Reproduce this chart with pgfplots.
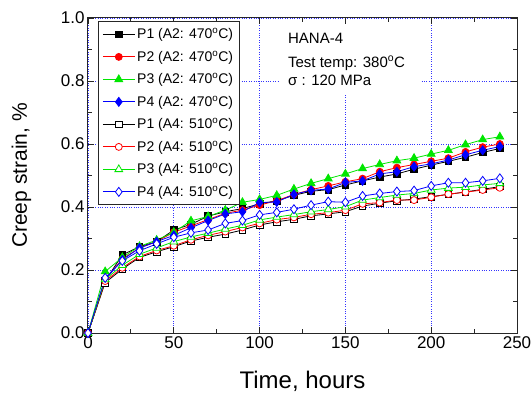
\documentclass[border=0pt]{standalone}
\usepackage{pgfplots}
\pgfplotsset{compat=1.18}
\usepackage{fontspec}
\setmainfont{Liberation Sans}
\definecolor{cgreen}{RGB}{0,230,0}
\definecolor{cred}{RGB}{255,0,0}
\definecolor{cblue}{RGB}{0,0,255}
\begin{document}
\begin{tikzpicture}
\useasboundingbox (-88pt,-61pt) rectangle (444pt,333pt);
\begin{axis}[
  at={(0pt,0pt)}, anchor=south west,
  scale only axis, width=429pt, height=315pt,
  xmin=0, xmax=250, ymin=0, ymax=1,
  xtick={0,50,...,250}, ytick={0,0.2,0.4,0.6,0.8,1.0},
  minor x tick num=1, minor y tick num=1,
  tick align=inside,
  major tick length=6pt, minor tick length=4pt,
  axis line style={line width=1pt, black!85},
  every tick/.style={black!85, line width=0.8pt},
  grid=major,
  major grid style={cblue!80, dotted, line width=0.9pt},
  yticklabel style={/pgf/number format/.cd, fixed, fixed zerofill, precision=1},
  /pgf/number format/assume math mode=true,
  ticklabel style={font=\fontsize{17}{17}\selectfont},
  xlabel={Time, hours}, ylabel={Creep strain, \%},
  xlabel style={font=\fontsize{24}{24}\selectfont, at={([yshift=-55pt]axis description cs:0.5,0)}, anchor=base},
  ylabel style={font=\fontsize{21}{21}\selectfont, at={([xshift=-61pt]axis description cs:0,0.5)}, anchor=base},
  legend style={at={(axis description cs:0.0233,0.9905)}, anchor=north west,
    font=\fontsize{14}{14}\selectfont, draw=black!85, line width=0.8pt, fill=white,
    row sep=6.5pt, inner xsep=4pt, inner ysep=5pt},
  legend cell align=left,
  legend image code/.code={\draw[mark repeat=2,mark phase=2] plot coordinates {(0pt,0pt) (16pt,0pt) (32pt,0pt)};},
  every axis plot/.append style={line width=0.8pt},
]
\fill[white] (axis description cs:0.4476,0.978) rectangle (axis description cs:0.7739,0.7556);
\node[anchor=base west, font=\fontsize{15}{15}\selectfont, inner sep=0pt] at (axis description cs:0.466,0.9175) {HANA-4};
\node[anchor=base west, font=\fontsize{15}{15}\selectfont, inner sep=0pt] at (axis description cs:0.466,0.8444) {Test temp: 380\textsuperscript{o}C};
\node[anchor=base west, font=\fontsize{15}{15}\selectfont, inner sep=0pt] at (axis description cs:0.466,0.7873) {σ : 120 MPa};

% P1 A2
\addplot[black, mark=square*, mark size=3.3pt, mark options={fill=black}] table {
0 0
10 0.165
20 0.248
30 0.274
40 0.290
50 0.327
60 0.345
70 0.371
80 0.385
90 0.395
100 0.410
110 0.420
120 0.437
130 0.450
140 0.455
150 0.470
160 0.483
170 0.495
180 0.505
190 0.520
200 0.533
210 0.545
220 0.558
230 0.573
240 0.586
};
\addlegendentry{P1 (A2: 470\textsuperscript{o}C)}
% P2 A2
\addplot[cred, mark=*, mark size=3.5pt, mark options={fill=cred}] table {
0 0
10 0.170
20 0.235
30 0.270
40 0.290
50 0.320
60 0.340
70 0.360
80 0.380
90 0.390
100 0.406
110 0.420
120 0.440
130 0.455
140 0.467
150 0.480
160 0.490
170 0.512
180 0.525
190 0.535
200 0.545
210 0.555
220 0.575
230 0.590
240 0.600
};
\addlegendentry{P2 (A2: 470\textsuperscript{o}C)}
% P3 A2
\addplot[cgreen, mark=triangle*, mark size=4.5pt, mark options={fill=cgreen}] table {
0 0
10 0.195
20 0.240
30 0.275
40 0.295
50 0.320
60 0.356
70 0.370
80 0.390
90 0.415
100 0.424
110 0.437
120 0.457
130 0.475
140 0.490
150 0.505
160 0.522
170 0.535
180 0.547
190 0.555
200 0.568
210 0.580
220 0.598
230 0.614
240 0.623
};
\addlegendentry{P3 (A2: 470\textsuperscript{o}C)}
% P4 A2
\addplot[cblue, mark=diamond*, mark size=4.5pt, mark options={fill=cblue}] table {
0 0
10 0.170
20 0.232
30 0.270
40 0.290
50 0.310
60 0.334
70 0.357
80 0.378
90 0.385
100 0.414
110 0.416
120 0.440
130 0.453
140 0.457
150 0.478
160 0.483
170 0.505
180 0.512
190 0.528
200 0.537
210 0.549
220 0.566
230 0.580
240 0.592
};
\addlegendentry{P4 (A2: 470\textsuperscript{o}C)}
% P1 A4
\addplot[black, mark=square*, mark size=3.3pt, mark options={fill=white}] table {
0 0
10 0.160
20 0.203
30 0.240
40 0.258
50 0.274
60 0.292
70 0.304
80 0.314
90 0.327
100 0.343
110 0.353
120 0.361
130 0.372
140 0.378
150 0.385
160 0.403
170 0.412
180 0.420
190 0.425
200 0.433
210 0.440
220 0.448
230 0.456
240 0.465
};
\addlegendentry{P1 (A4: 510\textsuperscript{o}C)}
% P2 A4
\addplot[cred, mark=*, mark size=3.5pt, mark options={fill=white}] table {
0 0
10 0.165
20 0.207
30 0.243
40 0.262
50 0.277
60 0.296
70 0.310
80 0.322
90 0.335
100 0.348
110 0.360
120 0.367
130 0.377
140 0.382
150 0.390
160 0.410
170 0.414
180 0.422
190 0.422
200 0.431
210 0.441
220 0.447
230 0.454
240 0.461
};
\addlegendentry{P2 (A4: 510\textsuperscript{o}C)}
% P3 A4
\addplot[cgreen, mark=triangle*, mark size=4.5pt, mark options={fill=white}] table {
0 0
10 0.170
20 0.215
30 0.250
40 0.270
50 0.290
60 0.305
70 0.317
80 0.330
90 0.342
100 0.359
110 0.368
120 0.376
130 0.385
140 0.392
150 0.401
160 0.422
170 0.430
180 0.438
190 0.443
200 0.454
210 0.460
220 0.463
230 0.470
240 0.475
};
\addlegendentry{P3 (A4: 510\textsuperscript{o}C)}
% P4 A4
\addplot[cblue, mark=diamond*, mark size=4.5pt, mark options={fill=white}] table {
0 0
10 0.175
20 0.229
30 0.261
40 0.283
50 0.304
60 0.318
70 0.327
80 0.348
90 0.357
100 0.375
110 0.383
120 0.393
130 0.406
140 0.417
150 0.415
160 0.435
170 0.443
180 0.449
190 0.452
200 0.467
210 0.477
220 0.477
230 0.483
240 0.491
};
\addlegendentry{P4 (A4: 510\textsuperscript{o}C)}
\end{axis}
\end{tikzpicture}
\end{document}
